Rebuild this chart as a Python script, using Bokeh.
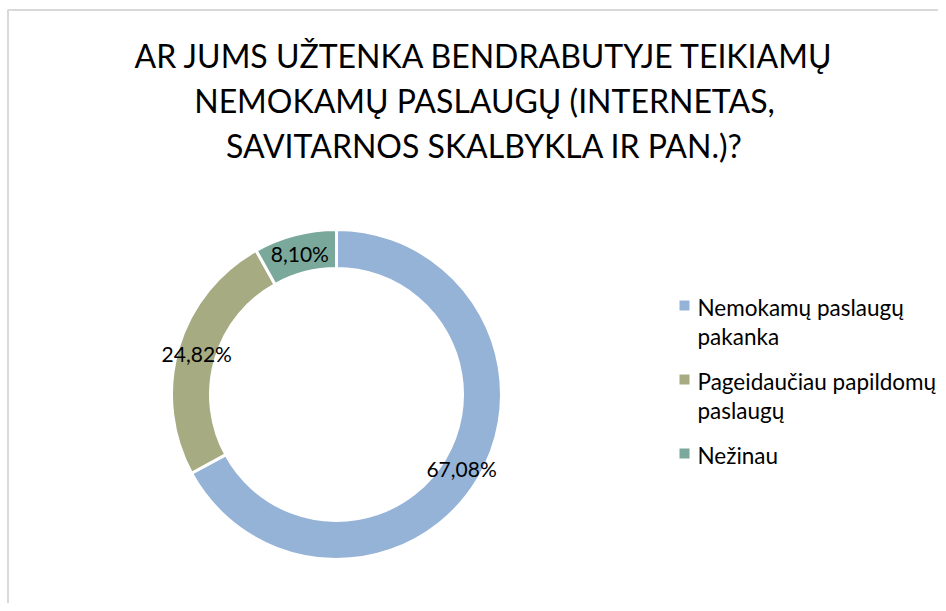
import numpy as np
import textwrap
from bokeh.plotting import figure
from bokeh.models import Range1d, ColumnDataSource
from bokeh.core.properties import value
from bokeh.embed import file_html
from bokeh.resources import INLINE

# ---- data ----
title_lines = ["AR JUMS UŽTENKA BENDRABUTYJE TEIKIAMŲ",
               "NEMOKAMŲ PASLAUGŲ (INTERNETAS,",
               "SAVITARNOS SKALBYKLA IR PAN.)?"]
categories = ["Nemokamų paslaugų pakanka", "Pageidaučiau papildomų paslaugų", "Nežinau"]
shares = [67.08, 24.82, 8.10]
colors = ["#95b3d7", "#a6ab81", "#7aa99b"]

# ---- layout constants (pixel-like data units) ----
W, H = 938, 603
CX, CY = 336, 209
R_OUT, R_IN = 165, 126
FONT = value("Lato")

p = figure(width=W, height=H, output_backend="svg", toolbar_location=None,
           x_range=Range1d(0, W), y_range=Range1d(0, H), min_border=0,
           x_axis_location=None, y_axis_location=None)
p.xgrid.grid_line_color = None
p.ygrid.grid_line_color = None
p.outline_line_color = None
p.background_fill_color = "white"
p.border_fill_color = "white"

# chart-area border (left and top visible)
p.segment(x0=[7.5, 7], y0=[0, H - 9.5], x1=[7.5, W], y1=[H - 9.5, H - 9.5],
          line_color="#d9d9d9", line_width=2)

# donut
vals = np.array(shares, dtype=float)
frac = vals / vals.sum()
spans = frac * 2 * np.pi
before = np.concatenate([[0], np.cumsum(spans)[:-1]])
starts = np.pi / 2 - before
ends = starts - spans
src = ColumnDataSource(dict(start=starts, end=ends, color=colors, cat=categories))
p.annular_wedge(x=CX, y=CY, inner_radius=R_IN, outer_radius=R_OUT,
                inner_radius_units="screen", outer_radius_units="screen",
                start_angle="start", end_angle="end", direction="clock",
                fill_color="color", line_color="white", line_width=3, source=src)

# data labels
mid = (starts + ends) / 2
rm = (R_IN + R_OUT) / 2
lab = [f"{v:.2f}".replace(".", ",") + "%" for v in shares]
p.text(x=CX + rm * np.cos(mid), y=CY + rm * np.sin(mid), text=lab,
       text_font=FONT, text_font_size="21px", text_color="black",
       text_align="center", text_baseline="middle")

# title
ty0, tdy = 548, 45
p.text(x=[484] * len(title_lines), y=[ty0 - i * tdy for i in range(len(title_lines))],
       text=title_lines, text_font=FONT, text_font_size="32px", text_color="black",
       text_align="center", text_baseline="middle")

# legend
LX_SQ, LX_TX = 684, 697
ly = 296
line_h, gap = 29, 16
tx, ty, tt, sy = [], [], [], []
for cat in categories:
    lines = textwrap.wrap(cat, 22)
    sy.append(ly + 2)
    for j, ln in enumerate(lines):
        tx.append(LX_TX); ty.append(ly - j * line_h); tt.append(ln)
    ly -= len(lines) * line_h + gap
p.scatter(x=[LX_SQ] * len(categories), y=sy, marker="square", size=10,
          fill_color=colors, line_color=None)
p.text(x=tx, y=ty, text=tt, text_font=FONT, text_font_size="22.5px", text_color="black",
       text_align="left", text_baseline="middle")

open("out.html", "w").write(file_html(p, INLINE))
